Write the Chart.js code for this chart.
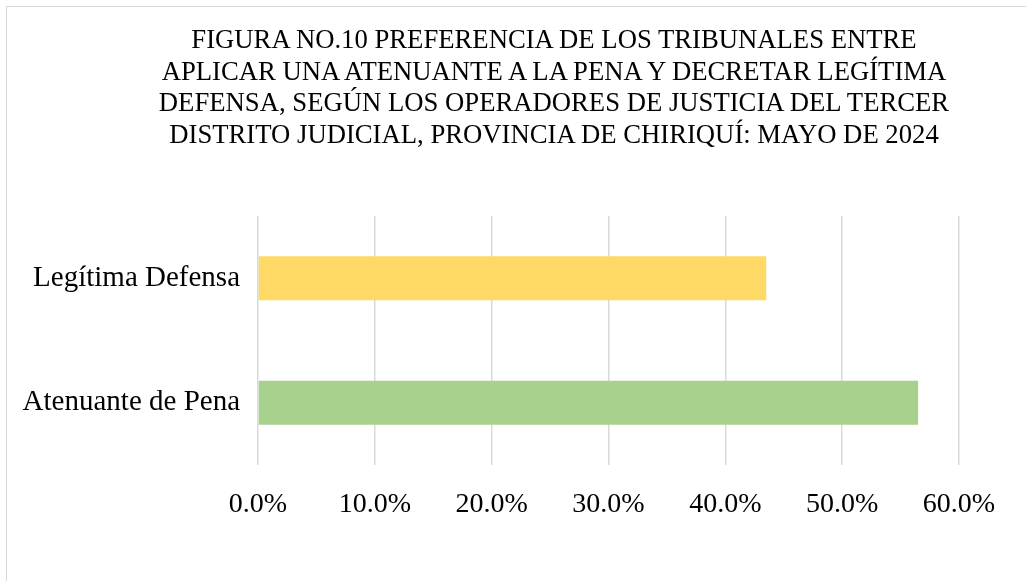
<!DOCTYPE html>
<html>
<head>
<meta charset="utf-8">
<script src="https://cdn.jsdelivr.net/npm/chart.js@4"></script>
<style>
  html, body { margin: 0; padding: 0; background: #fff; }
  #wrap { position: relative; width: 1026px; height: 581px; overflow: hidden; }
  #frame { position: absolute; left: 6px; top: 6px; width: 1100px; height: 700px; border: 1px solid #d9d9d9; }
  #chart { position: absolute; left: 0; top: 0; }
  #title {
    position: absolute; left: 0; top: 24px; width: 1108px;
    font-family: 'Liberation Serif', 'Times New Roman', serif;
    font-size: 26.7px; line-height: 31.6px; color: #000; text-align: center;
  }
</style>
</head>
<body>
<div id="wrap">
  <div id="frame"></div>
  <canvas id="chart" width="1026" height="581"></canvas>
  <div id="title"></div>
</div>
<script>
// chart data
const categories = ['Legítima Defensa', 'Atenuante de Pena'];
const percentages = [43.5, 56.5];
const barColors = ['#FFD966', '#A9D18E'];
const titleLines = [
  'FIGURA NO.10 PREFERENCIA DE LOS TRIBUNALES ENTRE',
  'APLICAR UNA ATENUANTE A LA PENA Y DECRETAR LEGÍTIMA',
  'DEFENSA, SEGÚN LOS OPERADORES DE JUSTICIA DEL TERCER',
  'DISTRITO JUDICIAL, PROVINCIA DE CHIRIQUÍ: MAYO DE 2024'
];

const serif = "'Liberation Serif', 'Times New Roman', serif";

// title sits off-centre relative to the plot, so it is placed as html text
const titleEl = document.getElementById('title');
titleLines.forEach(line => {
  const d = document.createElement('div');
  d.textContent = line;
  titleEl.appendChild(d);
});

new Chart(document.getElementById('chart'), {
  type: 'bar',
  data: {
    labels: categories,
    datasets: [{
      data: percentages,
      backgroundColor: barColors,
      borderWidth: 0,
      categoryPercentage: 1,
      barPercentage: 0.355
    }]
  },
  options: {
    indexAxis: 'y',
    responsive: false,
    animation: false,
    layout: { padding: { left: 12, right: 67, top: 216, bottom: 56 } },
    plugins: {
      legend: { display: false },
      tooltip: { enabled: false },
      title: { display: false }
    },
    scales: {
      x: {
        min: 0,
        max: 60,
        ticks: {
          stepSize: 10,
          color: '#000',
          padding: 23,
          font: { family: serif, size: 28 },
          callback: v => v.toFixed(1) + '%'
        },
        grid: { color: '#d9d9d9', lineWidth: 1.5, drawTicks: false },
        border: { display: false },
        afterFit: s => { s.height = 60; }
      },
      y: {
        ticks: {
          color: '#000',
          padding: 18,
          font: { family: serif, size: 29 }
        },
        grid: { display: false, drawTicks: false },
        border: { display: false },
        afterFit: s => { s.width = 246; }
      }
    }
  }
});
</script>
</body>
</html>
